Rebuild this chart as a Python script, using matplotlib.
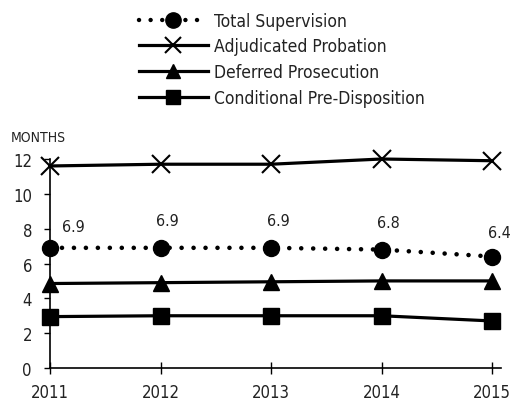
import matplotlib
matplotlib.use("Agg")
import matplotlib.pyplot as plt
from matplotlib.lines import Line2D

plt.rcParams['font.family'] = ['DejaVu Sans']
plt.rcParams['font.stretch'] = 'condensed'

years = [2011, 2012, 2013, 2014, 2015]
total_supervision = [6.9, 6.9, 6.9, 6.8, 6.4]
adjudicated_probation = [11.6, 11.7, 11.7, 12.0, 11.9]
deferred_prosecution = [4.85, 4.9, 4.95, 5.0, 5.0]
conditional_predisposition = [2.95, 3.0, 3.0, 3.0, 2.7]
total_labels = ["6.9", "6.9", "6.9", "6.8", "6.4"]
y_ticks = [0, 2, 4, 6, 8, 10, 12]

fig = plt.figure(figsize=(5.14, 4.02), dpi=100)
ax = fig.add_axes([50/514, 33/402, 451/514, 209/402])

lw = 2.3
dot_style = (0, (0.01, 2.6))
ax.plot(years, adjudicated_probation, color='black', lw=lw, marker='x',
        markersize=13, markeredgewidth=1.5, clip_on=False, zorder=3)
ax.plot(years, deferred_prosecution, color='black', lw=lw, marker='^',
        markersize=11, clip_on=False, zorder=3)
ax.plot(years, conditional_predisposition, color='black', lw=lw, marker='s',
        markersize=11, clip_on=False, zorder=3)
ax.plot(years, total_supervision, color='black', lw=3.3, linestyle=dot_style,
        dash_capstyle='round', marker='o', markersize=11.5, clip_on=False, zorder=3)

offsets = [(17, 10), (5, 14), (5, 14), (5, 14), (5, 12)]
for x, y, lab, off in zip(years, total_supervision, total_labels, offsets):
    ax.annotate(lab, (x, y), xytext=off, textcoords='offset points',
                ha='center', va='bottom', fontsize=11.5, color='#222222')

ax.set_xlim(2011, 2015.08)
ax.set_ylim(0, 12)
ax.set_yticks(y_ticks)
ax.set_xticks(years)
ax.tick_params(axis='y', direction='out', length=4, width=1, labelsize=12, pad=9, labelcolor='#222222')
ax.tick_params(axis='x', direction='inout', length=9, width=1, labelsize=12, pad=6, labelcolor='#222222')
for s in ['top', 'right']:
    ax.spines[s].set_visible(False)
for s in ['left', 'bottom']:
    ax.spines[s].set_linewidth(1.2)

fig.text(11/514, 1 - 138/402, "MONTHS", fontsize=10, color='#222222', va='center', ha='left')

handles = [
    Line2D([], [], color='black', lw=3.2, linestyle=dot_style, dash_capstyle='round',
           marker='o', markersize=11),
    Line2D([], [], color='black', lw=lw, marker='x', markersize=12, markeredgewidth=1.5),
    Line2D([], [], color='black', lw=lw, marker='^', markersize=10),
    Line2D([], [], color='black', lw=lw, marker='s', markersize=10),
]
labels = ["Total Supervision", "Adjudicated Probation", "Deferred Prosecution",
          "Conditional Pre-Disposition"]
fig.legend(handles, labels, loc='upper left', bbox_to_anchor=(123/514, 1 + 3/402),
           frameon=False, fontsize=12.5, handlelength=4.0, handletextpad=0.35,
           labelspacing=0.45, labelcolor='#222222')

fig.savefig("out.png", dpi=100)
